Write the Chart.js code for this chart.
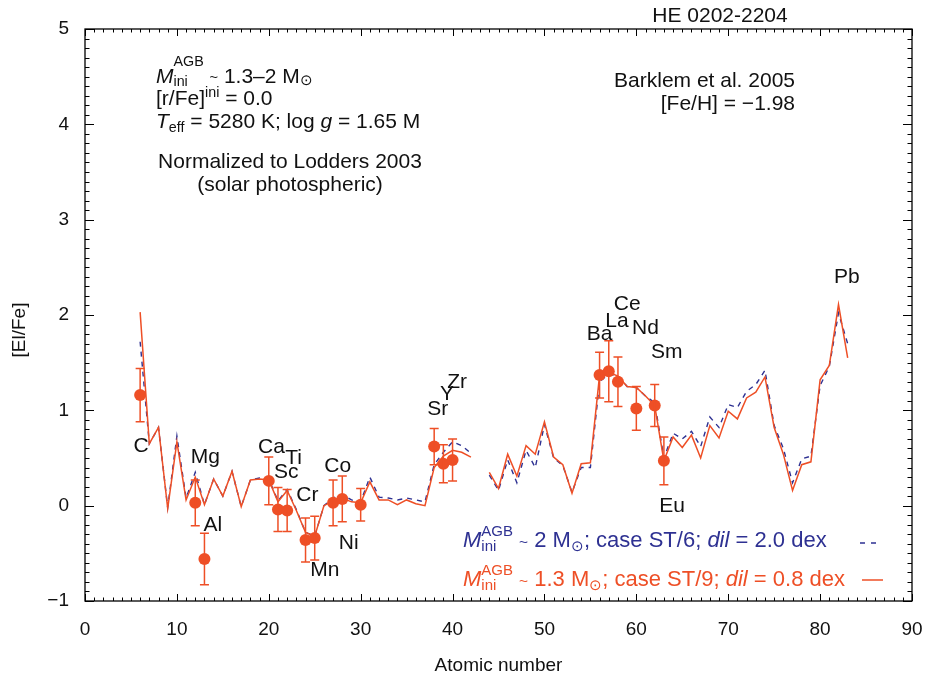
<!DOCTYPE html>
<html>
<head>
<meta charset="utf-8">
<script src="https://cdn.jsdelivr.net/npm/chart.js@4.4.1/dist/chart.umd.min.js"></script>
<style>
  html, body { margin: 0; padding: 0; background: #fff; }
  #wrap { width: 927px; height: 678px; }
</style>
</head>
<body>
<div id="wrap"><canvas id="abund" width="927" height="678"></canvas></div>
<script>
// atomic numbers of the model curves (43 = Tc has no value)
const modelZ = [6, 7, 8, 9, 10, 11, 12, 13, 14, 15, 16, 17, 18, 19, 20, 21, 22, 23, 24, 25,
  26, 27, 28, 29, 30, 31, 32, 33, 34, 35, 36, 37, 38, 39, 40, 41, 42, 43, 44, 45,
  46, 47, 48, 49, 50, 51, 52, 53, 54, 55, 56, 57, 58, 59, 60, 61, 62, 63, 64, 65,
  66, 67, 68, 69, 70, 71, 72, 73, 74, 75, 76, 77, 78, 79, 80, 81, 82, 83];

// 1.3 Msun, case ST/9, dil = 0.8 dex (solid)
const st9 = [2.03, 0.65, 0.82, -0.03, 0.67, 0.06, 0.30, 0.01, 0.28, 0.10, 0.36, -0.01, 0.27, 0.28, 0.27, 0.04, 0.16, -0.05, -0.28, -0.32,
  0.00, 0.05, 0.08, 0.04, 0.03, 0.25, 0.06, 0.06, 0.01, 0.06, 0.02, 0.00, 0.40, 0.52, 0.58, 0.56, 0.51, null, 0.35, 0.18,
  0.54, 0.31, 0.63, 0.54, 0.88, 0.51, 0.43, 0.13, 0.44, 0.45, 1.37, 1.40, 1.36, 1.25, 1.24, 1.15, 1.05, 0.47, 0.72, 0.61,
  0.74, 0.50, 0.84, 0.71, 0.99, 0.91, 1.13, 1.19, 1.35, 0.82, 0.54, 0.16, 0.43, 0.46, 1.32, 1.47, 2.11, 1.55];

// 2 Msun, case ST/6, dil = 2.0 dex (dashed)
const st6 = [1.72, 0.65, 0.82, -0.02, 0.73, 0.08, 0.35, 0.01, 0.28, 0.10, 0.36, -0.01, 0.27, 0.29, 0.28, 0.05, 0.17, -0.04, -0.28, -0.32,
  0.00, 0.08, 0.12, 0.06, 0.04, 0.30, 0.09, 0.08, 0.06, 0.08, 0.06, 0.04, 0.43, 0.56, 0.67, 0.63, 0.55, null, 0.32, 0.16,
  0.48, 0.24, 0.58, 0.40, 0.85, 0.50, 0.42, 0.14, 0.40, 0.40, 1.30, 1.38, 1.36, 1.25, 1.24, 1.15, 1.08, 0.50, 0.76, 0.70,
  0.78, 0.62, 0.93, 0.82, 1.06, 1.03, 1.20, 1.27, 1.42, 0.84, 0.60, 0.24, 0.49, 0.52, 1.26, 1.46, 2.02, 1.70];

// observed abundances (Barklem et al. 2005)
const obsZ   = [6, 12, 13, 20, 21, 22, 24, 25, 27, 28, 30, 38, 39, 40, 56, 57, 58, 60, 62, 63];
const obsVal = [1.16, 0.03, -0.56, 0.26, -0.04, -0.05, -0.36, -0.34, 0.03, 0.07, 0.01, 0.62, 0.44, 0.48, 1.37, 1.41, 1.30, 1.02, 1.05, 0.47];
const obsErr = [0.28, 0.24, 0.27, 0.25, 0.23, 0.22, 0.23, 0.23, 0.24, 0.24, 0.17, 0.19, 0.20, 0.22, 0.24, 0.32, 0.26, 0.23, 0.22, 0.25];

const xTicks = [0, 10, 20, 30, 40, 50, 60, 70, 80, 90];
const yTicks = [-1, 0, 1, 2, 3, 4, 5];

// element names, placed in data units
const elementTags = [
  ['C', 6.1, 0.62], ['Mg', 13.1, 0.51], ['Al', 13.9, -0.21], ['Ca', 20.3, 0.61], ['Ti', 22.7, 0.50],
  ['Sc', 21.9, 0.35], ['Cr', 24.2, 0.11], ['Co', 27.5, 0.41], ['Ni', 28.7, -0.39], ['Mn', 26.1, -0.68],
  ['Sr', 38.4, 1.01], ['Y', 39.4, 1.17], ['Zr', 40.5, 1.29], ['Ba', 56.0, 1.80], ['La', 57.9, 1.94],
  ['Ce', 59.0, 2.11], ['Nd', 61.0, 1.86], ['Sm', 63.3, 1.61], ['Eu', 63.9, -0.01], ['Pb', 82.9, 2.40]
];

const RED = '#ee4f26';
const BLUE = '#2e3192';
const FAM = "'Liberation Sans', Arial, Helvetica, sans-serif";

function pts(xs, ys) {
  return xs.map((x, i) => ({ x: x, y: ys[i] }));
}

// draws text made of parts: {t, it, s (scale), dy (em), over (stack with next)}
function rich(ctx, x, y, parts, size, color, align) {
  const font = p => (p.it ? 'italic ' : '') + (size * (p.s || 1)).toFixed(1) + 'px ' + FAM;
  let total = 0, pending = 0;
  const widths = parts.map(p => {
    ctx.font = font(p);
    return ctx.measureText(p.t).width;
  });
  parts.forEach((p, i) => {
    if (p.over) { pending = widths[i]; return; }
    total += Math.max(widths[i], pending);
    pending = 0;
  });
  let cx = align === 'right' ? x - total : align === 'center' ? x - total / 2 : x;
  ctx.fillStyle = color;
  ctx.textAlign = 'left';
  ctx.textBaseline = 'alphabetic';
  pending = 0;
  parts.forEach((p, i) => {
    ctx.font = font(p);
    ctx.fillText(p.t, cx, y + (p.dy || 0) * size);
    if (p.over) { pending = widths[i]; return; }
    cx += Math.max(widths[i], pending);
    pending = 0;
  });
  return cx;
}

const frameAndText = {
  id: 'frameAndText',
  afterDatasetsDraw(chart) {
    const { ctx, chartArea: a, scales: { x, y } } = chart;
    ctx.save();

    // error bars
    ctx.strokeStyle = RED;
    ctx.lineWidth = 1.5;
    obsZ.forEach((z, i) => {
      const px = x.getPixelForValue(z);
      const top = y.getPixelForValue(obsVal[i] + obsErr[i]);
      const bot = y.getPixelForValue(obsVal[i] - obsErr[i]);
      ctx.beginPath();
      ctx.moveTo(px, top); ctx.lineTo(px, bot);
      ctx.moveTo(px - 4.5, top); ctx.lineTo(px + 4.5, top);
      ctx.moveTo(px - 4.5, bot); ctx.lineTo(px + 4.5, bot);
      ctx.stroke();
    });

    // frame with inward ticks on all sides
    ctx.strokeStyle = '#000';
    ctx.lineWidth = 1.3;
    ctx.strokeRect(a.left, a.top, a.right - a.left, a.bottom - a.top);
    ctx.lineWidth = 1;
    ctx.beginPath();
    for (let v = x.min; v <= x.max; v++) {
      const px = Math.round(x.getPixelForValue(v)) + 0.5;
      const len = v % 10 === 0 ? 7 : 3.5;
      ctx.moveTo(px, a.bottom); ctx.lineTo(px, a.bottom - len);
      ctx.moveTo(px, a.top); ctx.lineTo(px, a.top + len);
    }
    for (let k = y.min * 10; k <= y.max * 10; k++) {
      const py = Math.round(y.getPixelForValue(k / 10)) + 0.5;
      const len = k % 10 === 0 ? 9 : 4.5;
      ctx.moveTo(a.left, py); ctx.lineTo(a.left + len, py);
      ctx.moveTo(a.right, py); ctx.lineTo(a.right - len, py);
    }
    ctx.stroke();

    // element names
    ctx.fillStyle = '#111';
    ctx.font = '21px ' + FAM;
    ctx.textAlign = 'center';
    ctx.textBaseline = 'middle';
    elementTags.forEach(([name, zx, zy]) => {
      ctx.fillText(name, x.getPixelForValue(zx), y.getPixelForValue(zy));
    });

    // y axis title
    ctx.save();
    ctx.translate(20, 330);
    ctx.rotate(-Math.PI / 2);
    ctx.font = '19px ' + FAM;
    ctx.fillStyle = '#111';
    ctx.textAlign = 'center';
    ctx.textBaseline = 'middle';
    ctx.fillText('[El/Fe]', 0, 0);
    ctx.restore();

    // star name
    ctx.font = '21px ' + FAM;
    ctx.fillStyle = '#111';
    ctx.textAlign = 'center';
    ctx.textBaseline = 'alphabetic';
    ctx.fillText('HE 0202-2204', 720, 22);

    // model parameters, top left
    const S = 21;
    rich(ctx, 156, 83, [
      { t: 'M', it: true }, { t: 'AGB', s: 0.68, dy: -0.8, over: true }, { t: 'ini', s: 0.68, dy: 0.12 },
      { t: ' ' }, { t: '~', s: 0.7, dy: -0.05 }, { t: ' 1.3\u20132 M' }, { t: '\u2299', s: 0.7, dy: 0.1 }
    ], S, '#111', 'left');
    rich(ctx, 156, 105, [
      { t: '[r/Fe]' }, { t: 'ini', s: 0.68, dy: -0.38 }, { t: ' = 0.0' }
    ], S, '#111', 'left');
    rich(ctx, 156, 128, [
      { t: 'T', it: true }, { t: 'eff', s: 0.68, dy: 0.2 }, { t: ' = 5280 K; log ' }, { t: 'g', it: true }, { t: ' = 1.65 M' }
    ], S, '#111', 'left');
    rich(ctx, 290, 168, [{ t: 'Normalized to Lodders 2003' }], S, '#111', 'center');
    rich(ctx, 290, 191, [{ t: '(solar photospheric)' }], S, '#111', 'center');

    // observation reference, top right
    rich(ctx, 795, 87, [{ t: 'Barklem et al. 2005' }], 21, '#111', 'right');
    rich(ctx, 795, 110, [{ t: '[Fe/H] = \u22121.98' }], 21, '#111', 'right');

    // legend
    const L = 22;
    rich(ctx, 463, 547, [
      { t: 'M', it: true }, { t: 'AGB', s: 0.68, dy: -0.5, over: true }, { t: 'ini', s: 0.68, dy: 0.2 },
      { t: ' ' }, { t: '~', s: 0.7 }, { t: ' 2 M' }, { t: '\u2299', s: 0.7, dy: 0.2 },
      { t: '; case ST/6; ' }, { t: 'dil', it: true }, { t: ' = 2.0 dex' }
    ], L, BLUE, 'left');
    rich(ctx, 463, 586, [
      { t: 'M', it: true }, { t: 'AGB', s: 0.68, dy: -0.5, over: true }, { t: 'ini', s: 0.68, dy: 0.2 },
      { t: ' ' }, { t: '~', s: 0.7 }, { t: ' 1.3 M' }, { t: '\u2299', s: 0.7, dy: 0.2 },
      { t: '; case ST/9; ' }, { t: 'dil', it: true }, { t: ' = 0.8 dex' }
    ], L, RED, 'left');
    ctx.lineWidth = 1.5;
    ctx.strokeStyle = BLUE;
    ctx.setLineDash([5, 6]);
    ctx.beginPath(); ctx.moveTo(860, 543); ctx.lineTo(882, 543); ctx.stroke();
    ctx.setLineDash([]);
    ctx.strokeStyle = RED;
    ctx.beginPath(); ctx.moveTo(862, 580); ctx.lineTo(883, 580); ctx.stroke();

    ctx.restore();
  }
};

const ctx = document.getElementById('abund').getContext('2d');
new Chart(ctx, {
  type: 'line',
  data: {
    datasets: [
      {
        label: 'Barklem et al. 2005',
        type: 'scatter',
        data: pts(obsZ, obsVal),
        showLine: false,
        pointRadius: 6,
        pointBackgroundColor: RED,
        pointBorderColor: RED,
        pointBorderWidth: 0
      },
      {
        label: 'ST/9',
        data: pts(modelZ, st9),
        borderColor: RED,
        borderWidth: 1.5,
        pointRadius: 0,
        tension: 0,
        spanGaps: false
      },
      {
        label: 'ST/6',
        data: pts(modelZ, st6),
        borderColor: BLUE,
        borderWidth: 1.4,
        borderDash: [5, 5],
        pointRadius: 0,
        tension: 0,
        spanGaps: false
      }
    ]
  },
  options: {
    responsive: false,
    animation: false,
    devicePixelRatio: 1,
    layout: { padding: { left: 0, top: 29, right: 15, bottom: 0 } },
    plugins: { legend: { display: false }, tooltip: { enabled: false } },
    scales: {
      x: {
        type: 'linear',
        min: 0,
        max: 90,
        afterFit: s => { s.height = 77; s.paddingLeft = 0; s.paddingRight = 0; },
        afterBuildTicks: s => { s.ticks = xTicks.map(v => ({ value: v })); },
        grid: { display: false, drawTicks: false },
        border: { display: false },
        ticks: { color: '#111', padding: 17, maxRotation: 0, font: { size: 19, family: FAM } },
        title: { display: true, text: 'Atomic number', color: '#111', padding: { top: 0, bottom: 1 }, font: { size: 19, family: FAM } }
      },
      y: {
        min: -1,
        max: 5,
        afterFit: s => { s.width = 85; s.paddingTop = 0; s.paddingBottom = 0; },
        afterBuildTicks: s => { s.ticks = yTicks.map(v => ({ value: v })); },
        grid: { display: false, drawTicks: false },
        border: { display: false },
        ticks: {
          color: '#111',
          padding: 16,
          font: { size: 19, family: FAM },
          callback: v => (v < 0 ? '\u2212' + Math.abs(v) : String(v))
        }
      }
    }
  },
  plugins: [frameAndText]
});
</script>
</body>
</html>
